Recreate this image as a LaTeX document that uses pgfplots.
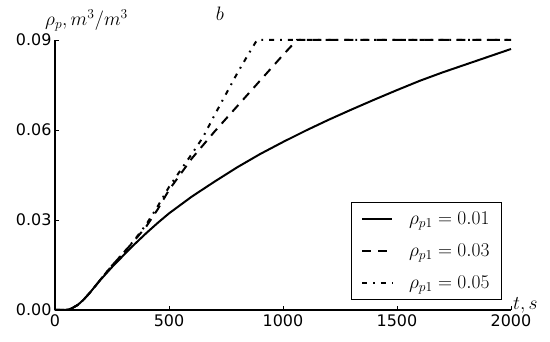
\RequirePackage{fix-cm}
\documentclass[border=0pt]{standalone}
\usepackage[no-math]{fontspec}
\setmainfont{DejaVu Sans}
\usepackage{pgfplots}
\pgfplotsset{compat=1.18}
\begin{document}
\begin{tikzpicture}
\begin{axis}[
  name=ax,
  scale only axis,
  width=456bp, height=270bp,
  xmin=0, xmax=2000, ymin=0, ymax=0.09,
  axis x line*=bottom, axis y line*=left,
  axis line style={line width=1.2bp, -},
  xtick={0,500,1000,1500,2000},
  ytick={0,0.03,0.06,0.09},
  tick align=inside,
  major tick length=4bp,
  tick style={line width=0.8bp, black},
  /pgf/number format/assume math mode=true,
  xticklabel style={/pgf/number format/1000 sep={}, font=\fontsize{16}{19}\selectfont, yshift=-1bp},
  yticklabel style={/pgf/number format/fixed, /pgf/number format/fixed zerofill, /pgf/number format/precision=2, font=\fontsize{16}{19}\selectfont},
  scaled y ticks=false,
  clip=false,
  legend cell align=left,
  legend style={at={(1,0)}, anchor=south east, xshift=-9bp, yshift=10bp,
    draw=black, line width=1bp, font=\fontsize{19.5}{23}\selectfont,
    inner xsep=10bp, inner ysep=7.5bp, row sep=14bp, column sep=14bp},
  legend image code/.code={\draw[#1, line width=2bp] (0bp,0bp) -- (30bp,0bp);},
]
\addplot[black, line width=2bp] coordinates {
(0,0) (45,0) (60,0.0002) (75,0.0006) (100,0.0017) (125,0.0034) (150,0.0055) (175,0.0078) (200,0.0101) (250,0.0143) (300,0.0182) (350,0.0220) (400,0.0256) (450,0.0290) (500,0.0322) (600,0.0378) (700,0.0428) (800,0.0476) (900,0.052) (1000,0.056) (1100,0.0598) (1200,0.0634) (1300,0.0668) (1400,0.0701) (1500,0.0733) (1600,0.0764) (1700,0.0792) (1800,0.0818) (1900,0.0844) (2000,0.087)};
\addlegendentry{$\rho_{p1}=0.01$}
\addplot[black, line width=2bp, dash pattern=on 9bp off 7bp] coordinates {
(0,0) (45,0) (60,0.0002) (75,0.0006) (100,0.0017) (125,0.0034) (150,0.0055) (175,0.0078) (200,0.0102) (250,0.0148) (300,0.019) (350,0.0233) (400,0.0278) (450,0.0335) (500,0.040) (600,0.0505) (700,0.0595) (800,0.068) (900,0.0765) (1000,0.085) (1061,0.09) (2000,0.09)};
\addlegendentry{$\rho_{p1}=0.03$}
\addplot[black, line width=2bp, dash pattern=on 5bp off 6bp on 1.8bp off 6bp] coordinates {
(0,0) (45,0) (60,0.0002) (75,0.0006) (100,0.0017) (125,0.0034) (150,0.0055) (175,0.0078) (200,0.0102) (250,0.0148) (300,0.019) (350,0.0235) (400,0.0285) (450,0.0345) (500,0.041) (550,0.0465) (600,0.052) (650,0.0577) (700,0.065) (750,0.072) (800,0.079) (850,0.0855) (886,0.09) (2000,0.09)};
\addlegendentry{$\rho_{p1}=0.05$}
\node[anchor=base west, font=\fontsize{19.5}{23}\selectfont, inner sep=0pt] at ([xshift=-10bp,yshift=14bp]rel axis cs:0,1) {$\rho_p, m^3/m^3$};
\node[anchor=base, font=\fontsize{19.5}{23}\selectfont, inner sep=0pt] at ([xshift=165bp,yshift=19bp]rel axis cs:0,1) {$b$};
\node[anchor=base west, font=\fontsize{19.5}{23}\selectfont, inner sep=0pt] at ([xshift=2bp,yshift=0bp]rel axis cs:1,0) {$t, s$};
\end{axis}
\path ([shift={(-55bp,-32bp)}]ax.south west) rectangle ([shift={(39bp,40bp)}]ax.north east);
\end{tikzpicture}
\end{document}
